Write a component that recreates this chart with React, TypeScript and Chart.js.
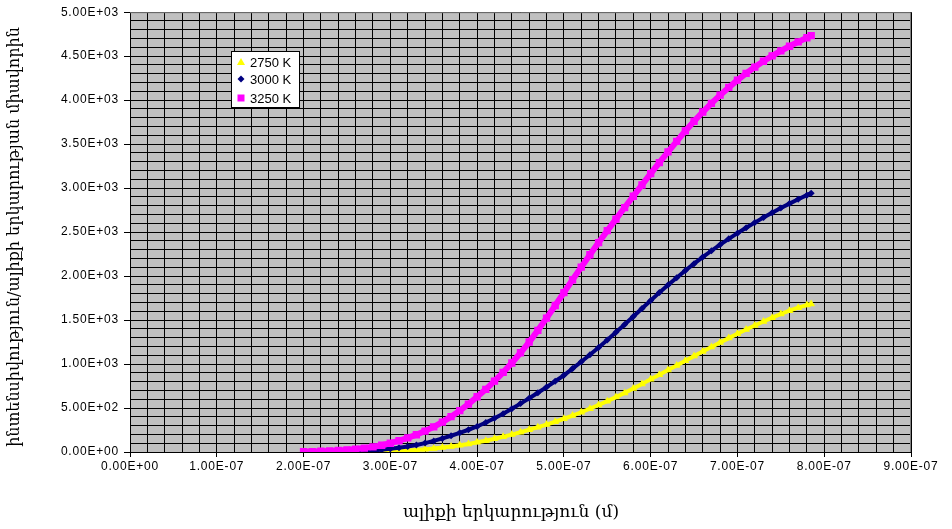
import React, { useEffect, useRef } from 'react';
import { Chart, registerables } from 'chart.js';

Chart.register(...registerables);

// wavelength (m)
const wavelengths = [
  2.0e-7, 2.1e-7, 2.2e-7, 2.3e-7, 2.4e-7, 2.5e-7, 2.6e-7, 2.7e-7, 2.8e-7, 2.9e-7,
  3.0e-7, 3.1e-7, 3.2e-7, 3.3e-7, 3.4e-7, 3.5e-7, 3.6e-7, 3.7e-7, 3.8e-7, 3.9e-7,
  4.0e-7, 4.1e-7, 4.2e-7, 4.3e-7, 4.4e-7, 4.5e-7, 4.6e-7, 4.7e-7, 4.8e-7, 4.9e-7,
  5.0e-7, 5.1e-7, 5.2e-7, 5.3e-7, 5.4e-7, 5.5e-7, 5.6e-7, 5.7e-7, 5.8e-7, 5.9e-7,
  6.0e-7, 6.1e-7, 6.2e-7, 6.3e-7, 6.4e-7, 6.5e-7, 6.6e-7, 6.7e-7, 6.8e-7, 6.9e-7,
  7.0e-7, 7.1e-7, 7.2e-7, 7.3e-7, 7.4e-7, 7.5e-7, 7.6e-7, 7.7e-7, 7.8e-7, 7.85e-7,
];

const k2750 = [
  0, 0, 0, 0, 1, 1, 2, 3, 4, 6,
  9, 13, 18, 24, 31, 40, 50, 62, 76, 92,
  110, 128, 150, 173, 198, 225, 253, 282, 312, 344,
  378, 414, 452, 492, 534, 578, 624, 672, 722, 774,
  826, 878, 931, 984, 1037, 1090, 1142, 1194, 1245, 1295,
  1344, 1392, 1438, 1483, 1527, 1569, 1607, 1641, 1670, 1682,
];

const k3000 = [
  0, 1, 1, 2, 3, 5, 8, 12, 18, 26,
  36, 48, 62, 80, 101, 126, 154, 185, 218, 253,
  290, 335, 384, 436, 491, 550, 611, 674, 738, 804,
  872, 948, 1026, 1106, 1189, 1274, 1361, 1450, 1541, 1632,
  1723, 1812, 1898, 1982, 2063, 2141, 2216, 2288, 2357, 2424,
  2488, 2549, 2608, 2665, 2720, 2773, 2824, 2873, 2920, 2943,
];

const k3250 = [
  3, 5, 8, 12, 17, 24, 33, 44, 58, 77,
  100, 128, 160, 196, 238, 285, 340, 402, 470, 545,
  628, 712, 805, 905, 1012, 1128, 1250, 1383, 1522, 1665,
  1812, 1958, 2102, 2243, 2381, 2516, 2648, 2779, 2908, 3036,
  3164, 3290, 3412, 3532, 3650, 3760, 3865, 3964, 4057, 4145,
  4228, 4305, 4376, 4442, 4503, 4560, 4613, 4663, 4710, 4733,
];

const seriesLabels = ['2750 K', '3000 K', '3250 K'];
const xTitle = 'ալիքի երկարություն (մ)';
const yTitle = 'ինտենսիվություն/ալիքի երկարության միավորին';

const X_MIN = 0, X_MAX = 9e-7, X_STEP = 2e-8;
const Y_MIN = 0, Y_MAX = 5000, Y_STEP = 100;

function fmtE(v: number): string {
  const s = v.toExponential(2);
  const [m, e] = s.split('e');
  const n = parseInt(e, 10);
  return m + 'E' + (n < 0 ? '-' : '+') + String(Math.abs(n)).padStart(2, '0');
}

const TICK_FONT = { family: '"Liberation Sans", Arial, sans-serif', size: 12 };

const decorPlugin = {
  id: 'decor',
  beforeDraw(chart: any) {
    const { ctx, chartArea: a } = chart;
    ctx.save();
    ctx.fillStyle = '#ffffff';
    ctx.fillRect(0, 0, chart.width, chart.height);
    ctx.fillStyle = '#C0C0C0';
    ctx.fillRect(a.left, a.top, a.right - a.left, a.bottom - a.top);
    ctx.restore();
    ctx.letterSpacing = '0.8px';
  },
  beforeDatasetsDraw(chart: any) {
    const { ctx, chartArea: a } = chart;
    ctx.save();
    ctx.strokeStyle = '#808080';
    ctx.lineWidth = 1;
    ctx.beginPath();
    ctx.moveTo(a.left, a.top + 0.5);
    ctx.lineTo(a.right - 0.5, a.top + 0.5);
    ctx.lineTo(a.right - 0.5, a.bottom);
    ctx.stroke();
    ctx.restore();
  },
  afterDraw(chart: any) {
    const { ctx } = chart;
    ctx.save();
    ctx.letterSpacing = '0px';
    // titles
    ctx.fillStyle = '#000';
    ctx.textAlign = 'center';
    ctx.textBaseline = 'middle';
    ctx.font = '17px "DejaVu Serif", "Liberation Serif", serif';
    ctx.fillText(xTitle, 511, 513);
    ctx.save();
    ctx.font = '16px "DejaVu Serif", "Liberation Serif", serif';
    ctx.translate(15, 237);
    ctx.rotate(-Math.PI / 2);
    ctx.fillText(yTitle, 0, 0);
    ctx.restore();

    // legend
    const lx = 231.5, ly = 51.5, lw = 68, lh = 56;
    ctx.fillStyle = '#ffffff';
    ctx.fillRect(lx, ly, lw, lh);
    ctx.strokeStyle = '#000';
    ctx.lineWidth = 1;
    ctx.strokeRect(lx, ly, lw, lh);
    const ys = [62, 79, 98];
    const mx = 241;
    // triangle
    ctx.fillStyle = '#FFFF00';
    ctx.beginPath();
    ctx.moveTo(mx, ys[0] - 4);
    ctx.lineTo(mx - 4, ys[0] + 3);
    ctx.lineTo(mx + 4, ys[0] + 3);
    ctx.closePath();
    ctx.fill();
    // diamond
    ctx.fillStyle = '#000080';
    ctx.beginPath();
    ctx.moveTo(mx, ys[1] - 3.5);
    ctx.lineTo(mx + 3.5, ys[1]);
    ctx.lineTo(mx, ys[1] + 3.5);
    ctx.lineTo(mx - 3.5, ys[1]);
    ctx.closePath();
    ctx.fill();
    // square
    ctx.fillStyle = '#FF00FF';
    ctx.fillRect(mx - 3.5, ys[2] - 3.5, 7, 7);
    ctx.fillStyle = '#000';
    ctx.font = '13px "Liberation Sans", Arial, sans-serif';
    ctx.textAlign = 'left';
    ctx.textBaseline = 'middle';
    seriesLabels.forEach((t, i) => ctx.fillText(t, 250, ys[i] + 1));
    ctx.restore();
  },
};

export default function App() {
  const ref = useRef<HTMLCanvasElement | null>(null);
  useEffect(() => {
    if (!ref.current) return;
    const mk = (ys: number[]) => wavelengths.map((x, i) => ({ x, y: ys[i] }));
    const chart = new Chart(ref.current, {
      type: 'scatter',
      data: {
        datasets: [
          {
            label: seriesLabels[0],
            data: mk(k2750),
            showLine: true,
            borderColor: '#FFFF00',
            backgroundColor: '#FFFF00',
            borderWidth: 4,
            pointStyle: 'triangle',
            pointRadius: 4.5,
            pointBorderWidth: 0,
            order: 2,
          },
          {
            label: seriesLabels[1],
            data: mk(k3000),
            showLine: true,
            borderColor: '#000080',
            backgroundColor: '#000080',
            borderWidth: 4,
            pointStyle: 'rectRot',
            pointRadius: 3.5,
            pointBorderWidth: 0,
            order: 1,
          },
          {
            label: seriesLabels[2],
            data: mk(k3250),
            showLine: true,
            borderColor: '#FF00FF',
            backgroundColor: '#FF00FF',
            borderWidth: 6,
            pointStyle: 'rect',
            pointRadius: 5.2,
            pointBorderWidth: 0,
            order: 0,
          },
        ],
      } as any,
      options: {
        animation: false,
        responsive: false,
        events: [],
        layout: { padding: { top: 12, right: 41, left: 0, bottom: 0 } },
        plugins: { legend: { display: false }, tooltip: { enabled: false } },
        elements: { line: { tension: 0 } },
        scales: {
          x: {
            type: 'linear',
            min: X_MIN,
            max: X_MAX,
            afterFit: (s: any) => { s.height = 77; },
            ticks: {
              stepSize: X_STEP,
              autoSkip: false,
              maxRotation: 0,
              minRotation: 0,
              padding: 2,
              color: '#000',
              font: TICK_FONT,
              callback: (v: any, i: number) => (i % 5 === 0 ? fmtE(Number(v)) : ''),
            },
            grid: {
              color: '#000',
              lineWidth: 1,
              tickLength: 5,
              tickColor: (c: any) => (c.index % 5 === 0 ? '#000' : 'rgba(0,0,0,0)'),
            },
            border: { color: '#000', width: 1 },
          },
          y: {
            type: 'linear',
            min: Y_MIN,
            max: Y_MAX,
            afterFit: (s: any) => { s.width = 130; },
            ticks: {
              stepSize: Y_STEP,
              autoSkip: false,
              padding: 5,
              color: '#000',
              font: TICK_FONT,
              callback: (v: any, i: number) => (i % 5 === 0 ? fmtE(Number(v)) : ''),
            },
            grid: {
              color: '#000',
              lineWidth: 1,
              tickLength: 6,
              tickColor: (c: any) => (c.index % 5 === 0 ? '#000' : 'rgba(0,0,0,0)'),
            },
            border: { color: '#000', width: 1 },
          },
        },
      } as any,
      plugins: [decorPlugin],
    });
    return () => chart.destroy();
  }, []);
  return (
    <div style={{ position: 'absolute', left: 0, top: 0, width: 952, height: 529, background: '#fff' }}>
      <canvas ref={ref} width={952} height={529} />
    </div>
  );
}
